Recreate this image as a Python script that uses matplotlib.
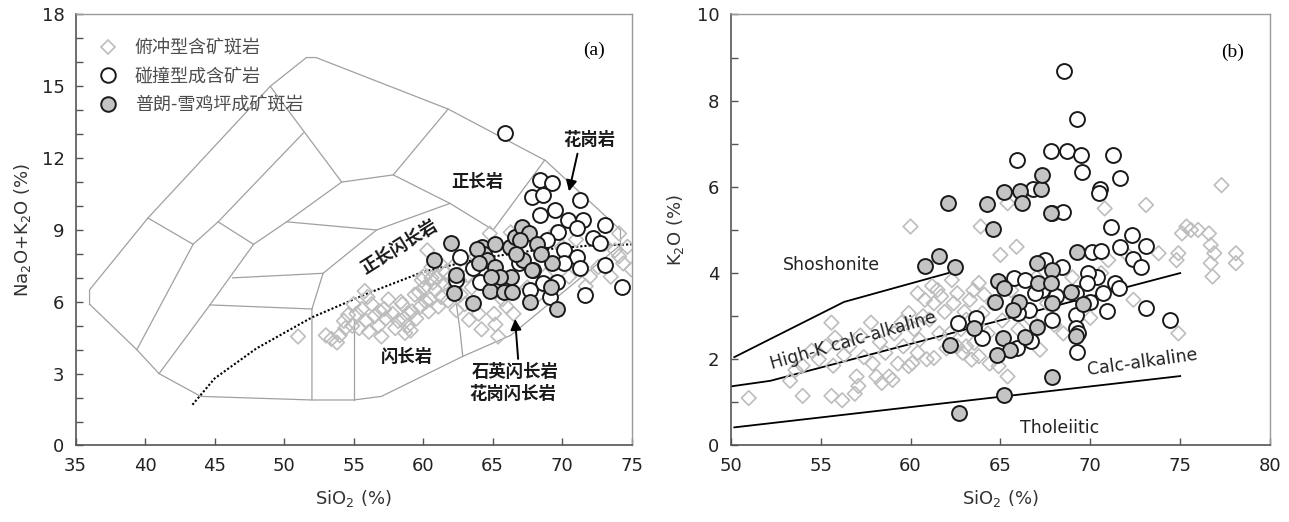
import matplotlib
matplotlib.use('Agg')
import matplotlib.pyplot as plt
from matplotlib.lines import Line2D

plt.rcParams['font.family'] = ['DejaVu Sans']
plt.rcParams['mathtext.default'] = 'regular'
CJK = ['Noto Sans CJK SC', 'DejaVu Sans']

# ---------------- panel (a): TAS data ----------------
tas_sub_x = [51.0, 53.0, 53.4, 53.8, 54.0, 54.3, 54.4, 54.6, 54.9, 55.0, 55.2, 55.4, 55.6, 55.8, 55.9,
             56.0, 56.1, 56.3, 56.5, 56.8, 56.9, 57.0, 57.2, 57.3, 57.5, 57.8, 58.0, 58.2, 58.4, 58.5,
             58.6, 58.7, 58.9, 59.0, 59.1, 59.2, 59.4, 59.5, 59.7, 59.8, 59.9, 60.0, 60.1, 60.2, 60.3,
             60.4, 60.5, 60.6, 60.6, 60.7, 60.9, 61.0, 61.1, 61.2, 61.3, 61.5, 61.6, 61.8, 61.9, 62.0,
             62.2, 62.4, 62.6, 62.7, 63.0, 63.2, 63.3, 63.5, 63.8, 64.0, 64.2, 64.2, 64.5, 64.8, 65.0,
             65.1, 65.2, 65.4, 65.7, 66.0, 66.3, 66.5, 67.0, 67.5, 68.3, 68.8, 69.5, 70.0, 70.5, 71.0,
             71.4, 71.7, 72.0, 72.6, 73.0, 73.5, 73.8, 74.1, 74.1, 74.4, 74.7, 75.0]
tas_sub_y = [4.55, 4.6, 4.45, 4.3, 4.6, 5.2, 4.9, 5.45, 5.0, 5.9, 5.5, 4.9, 5.7, 6.45, 5.2,
             6.2, 4.75, 5.9, 5.4, 5.0, 5.6, 4.55, 5.7, 5.3, 6.1, 5.5, 4.9, 5.2, 6.0, 5.9,
             5.3, 4.7, 5.0, 5.5, 4.8, 5.6, 6.3, 5.3, 6.4, 5.8, 6.9, 7.05, 6.6, 6.0, 8.15,
             5.6, 6.1, 7.45, 7.0, 6.8, 6.5, 7.0, 5.8, 7.6, 6.2, 6.75, 7.2, 6.05, 7.0, 6.6,
             7.5, 5.65, 6.9, 6.3, 5.9, 7.1, 5.25, 6.6, 7.9, 5.5, 4.85, 7.3, 6.9, 8.85, 6.5,
             5.5, 5.05, 4.55, 6.1, 5.8, 8.9, 5.5, 9.0, 6.6, 6.3, 7.1, 8.9, 8.3, 7.05, 8.6,
             7.45, 6.65, 7.05, 7.45, 8.4, 7.05, 8.15, 7.9, 8.85, 7.6, 8.3, 7.35]

tas_col_x = [65.9, 68.4, 69.25, 67.8, 68.65, 71.3, 68.4, 69.5, 70.45, 71.5, 73.1, 69.7, 71.05, 72.25,
             72.7, 70.1, 71.05, 73.1, 71.3, 70.1, 69.6, 71.65, 74.3, 62.65, 63.6, 64.1, 67.9, 68.65,
             62.4, 67.7, 69.1, 66.9, 68.9]
tas_col_y = [13.05, 11.09, 10.95, 10.39, 10.46, 10.25, 9.63, 9.83, 9.42, 9.42, 9.21, 8.93, 9.07, 8.65,
             8.44, 8.16, 7.89, 7.54, 7.4, 7.61, 6.84, 6.29, 6.63, 7.89, 7.4, 6.84, 7.33, 6.77,
             6.91, 6.5, 6.22, 7.6, 8.6]

tas_pl_x = [60.75, 62.0, 62.4, 62.2, 63.6, 64.2, 64.4, 65.15, 64.6, 65.2, 64.8, 66.25, 66.6, 67.1,
            67.6, 68.2, 67.0, 67.2, 67.8, 66.3, 65.5, 65.8, 66.4, 67.7, 69.2, 69.6, 69.3, 68.5,
            66.7, 64.9, 63.9, 64.0]
tas_pl_y = [7.75, 8.45, 7.1, 6.35, 5.94, 8.3, 8.0, 8.42, 7.75, 7.47, 6.45, 8.3, 8.72, 9.14,
            8.86, 8.4, 8.6, 7.75, 7.33, 7.05, 7.05, 6.4, 6.4, 6.0, 6.6, 5.7, 7.6, 8.0,
            8.0, 7.05, 8.2, 7.6]

# ---------------- panel (b): K2O data ----------------
k_sub_x = [51.0, 53.3, 53.6, 54.0, 54.0, 54.5, 54.9, 55.3, 55.6, 55.6, 55.7, 55.8, 56.2, 56.3, 56.6,
           56.9, 57.0, 57.1, 57.2, 57.4, 57.8, 57.9, 58.1, 58.3, 58.4, 58.6, 58.8, 59.0, 59.1, 59.3,
           59.5, 59.6, 59.9, 59.9, 60.0, 60.1, 60.2, 60.4, 60.4, 60.5, 60.7, 60.8, 60.9, 61.05, 61.2,
           61.3, 61.3, 61.5, 61.6, 61.7, 61.9, 62.0, 62.2, 62.3, 62.4, 62.6, 62.6, 62.8, 62.9, 63.0,
           63.1, 63.1, 63.3, 63.4, 63.5, 63.55, 63.7, 63.8, 63.8, 63.9, 64.0, 64.1, 64.3, 64.4, 64.6,
           64.9, 65.0, 65.1, 65.4, 65.4, 65.6, 65.9, 66.0, 66.3, 66.7, 67.0, 67.2, 67.6, 68.0, 68.5,
           69.0, 70.0, 70.6, 70.8, 71.0, 72.4, 72.0, 73.1, 73.8, 74.9, 74.8, 74.9, 75.1, 75.35, 75.6,
           76.0, 76.6, 76.7, 76.9, 76.7, 76.8, 78.1, 78.1, 77.3]
k_sub_y = [1.1, 1.5, 1.75, 1.15, 1.85, 2.2, 2.0, 2.3, 2.85, 1.15, 1.85, 2.5, 1.05, 2.1, 2.3,
           1.2, 1.6, 1.38, 2.55, 2.05, 2.85, 1.9, 1.6, 2.4, 1.45, 2.15, 1.6, 1.52, 2.6, 1.9,
           2.85, 2.3, 3.07, 1.84, 5.08, 1.91, 2.7, 3.53, 2.15, 2.45, 3.0, 3.38, 2.0, 2.92, 3.7,
           3.3, 2.03, 3.61, 2.6, 3.46, 3.1, 2.25, 2.6, 3.84, 3.3, 3.53, 2.3, 2.7, 2.15, 3.1,
           2.3, 2.92, 3.38, 1.99, 3.6, 2.38, 2.8, 3.77, 2.07, 5.08, 3.07, 3.5, 2.6, 1.9, 3.3,
           1.84, 4.42, 2.9, 1.6, 5.62, 3.6, 4.61, 2.7, 3.15, 2.92, 3.9, 2.22, 3.3, 2.8, 2.6,
           3.9, 2.96, 4.0, 5.5, 4.3, 3.38, 4.45, 5.58, 4.46, 4.46, 4.3, 2.6, 4.92, 5.08, 5.0,
           5.0, 4.92, 4.65, 4.46, 4.23, 3.92, 4.46, 4.23, 6.04]

k_col_x = [68.54, 69.26, 65.93, 67.8, 68.72, 69.5, 69.56, 71.26, 71.65, 70.53, 70.47, 66.84, 67.86,
           68.47, 71.15, 71.65, 72.3, 73.1, 72.35, 72.8, 70.08, 70.6, 67.5, 68.4, 65.75, 66.38,
           67.3, 70.35, 69.9, 69.8, 71.4, 71.6, 70.7, 70.0, 69.2, 70.95, 73.08, 74.44, 69.2, 69.2,
           69.33, 69.26, 66.7, 65.9, 62.64, 63.66, 64.0, 67.86, 68.1, 66.6, 66.0, 66.95]
k_col_y = [8.68, 7.58, 6.62, 6.83, 6.83, 6.74, 6.35, 6.74, 6.2, 5.96, 5.85, 5.96, 5.39,
           5.41, 5.08, 4.61, 4.88, 4.63, 4.32, 4.15, 4.5, 4.51, 4.3, 4.15, 3.88, 3.84,
           3.61, 3.92, 4.0, 3.77, 3.77, 3.65, 3.53, 3.34, 3.53, 3.11, 3.19, 2.92, 3.03, 2.72,
           2.6, 2.18, 2.42, 2.26, 2.84, 2.96, 2.49, 2.92, 3.46, 3.15, 3.07, 3.53]

k_pl_x = [62.07, 64.23, 64.57, 65.18, 66.09, 66.2, 67.25, 67.3, 67.8, 60.78, 61.57, 62.46, 64.86,
          65.2, 64.68, 66.04, 65.7, 67.06, 67.1, 67.86, 67.8, 67.86, 68.95, 69.26, 69.6, 67.06,
          66.38, 65.13, 65.54, 64.8, 63.55, 62.18, 69.22, 67.86, 65.2, 62.68]
k_pl_y = [5.63, 5.6, 5.02, 5.89, 5.91, 5.63, 5.96, 6.27, 5.39, 4.17, 4.4, 4.14, 3.82,
          3.65, 3.32, 3.34, 3.15, 4.23, 3.77, 4.07, 3.77, 3.3, 3.55, 4.5, 3.28, 2.76,
          2.51, 2.49, 2.22, 2.11, 2.72, 2.34, 2.55, 1.6, 1.18, 0.76]

# series boundaries
sho_x = [50.2, 56.3, 62.1]
sho_y = [2.05, 3.33, 4.0]
hk_x = [50.0, 52.2, 75.0]
hk_y = [1.37, 1.5, 4.0]
ca_x = [50.2, 75.0]
ca_y = [0.42, 1.61]

# TAS field boundaries (each a polyline)
tas_lines = [
    [(36.0, 5.9), (36.0, 6.5), (40.2, 9.5), (49.0, 15.0), (51.6, 16.2), (52.3, 16.2),
     (61.8, 14.05), (68.8, 11.9), (74.2, 9.0), (74.2, 8.37), (66.3, 4.6), (62.85, 3.72),
     (57.0, 2.05), (55.0, 1.9), (52.0, 1.9), (44.0, 2.05), (41.0, 3.0), (39.4, 4.0), (36.0, 5.9)],
    [(40.2, 9.5), (43.45, 8.4), (39.4, 4.0)],
    [(45.25, 9.34), (47.8, 8.4), (44.66, 5.87), (41.0, 3.0)],
    [(43.45, 8.4), (45.25, 9.34), (51.38, 13.05)],
    [(49.0, 15.0), (54.14, 11.0), (57.85, 11.3), (61.8, 14.05)],
    [(47.8, 8.4), (50.18, 9.34), (54.14, 11.0)],
    [(50.18, 9.34), (56.65, 9.0), (61.93, 10.11), (57.85, 11.3)],
    [(61.93, 10.11), (65.04, 9.0), (68.75, 11.92)],
    [(56.65, 9.0), (52.8, 7.19), (52.0, 5.7), (52.0, 1.9)],
    [(46.3, 7.0), (52.8, 7.19)],
    [(44.66, 5.87), (52.0, 5.7)],
    [(55.0, 1.9), (55.0, 5.3)],
    [(62.85, 3.72), (62.65, 4.82), (62.3, 6.3)],
]

# alkaline / subalkaline divide
div_x = [43.4, 45, 48, 52, 56, 60, 64, 68, 72, 75]
div_y = [1.7, 2.8, 4.05, 5.35, 6.35, 7.25, 7.8, 8.15, 8.35, 8.4]

fig = plt.figure(figsize=(12.89, 5.22), dpi=100)
ax1 = fig.add_axes([0.0587, 0.1466, 0.4313, 0.8257])
ax2 = fig.add_axes([0.5669, 0.1466, 0.4184, 0.8257])

dia_kw = dict(marker='D', s=55, facecolors='none', edgecolors='#bdbdbd', linewidths=1.2, zorder=3)
col_kw = dict(marker='o', s=115, facecolors='white', edgecolors='#1a1a1a', linewidths=1.4, zorder=4)
pl_kw = dict(marker='o', s=115, facecolors='#c4c4c4', edgecolors='#1a1a1a', linewidths=1.4, zorder=5)

# ---- (a) ----
for seg in tas_lines:
    ax1.plot([p[0] for p in seg], [p[1] for p in seg], color='#a0a0a0', lw=0.9, zorder=1)
ax1.plot(div_x, div_y, color='black', lw=1.5, ls=(0, (1, 1)), zorder=2)

ax1.scatter(tas_sub_x, tas_sub_y, **dia_kw)
ax1.scatter(tas_col_x, tas_col_y, **col_kw)
ax1.scatter(tas_pl_x, tas_pl_y, **pl_kw)

lab_kw = dict(family=CJK, fontsize=12.5, fontweight='bold', ha='center', va='center', color='#1a1a1a')
ax1.text(63.9, 11.0, '正长岩', **lab_kw)
ax1.text(72.0, 12.75, '花岗岩', **lab_kw)
ax1.text(58.3, 8.3, '正长闪长岩', rotation=32, **lab_kw)
ax1.text(58.8, 3.7, '闪长岩', **lab_kw)
ax1.text(66.6, 3.05, '石英闪长岩', **lab_kw)
ax1.text(66.45, 2.15, '花岗闪长岩', **lab_kw)
ax1.annotate('', xy=(70.45, 10.5), xytext=(71.15, 12.3),
             arrowprops=dict(arrowstyle='-|>', color='black', lw=1.4, mutation_scale=16))
ax1.annotate('', xy=(66.6, 5.4), xytext=(66.85, 3.5),
             arrowprops=dict(arrowstyle='-|>', color='black', lw=1.4, mutation_scale=16))
ax1.text(72.3, 16.5, '(a)', family='Liberation Serif', fontsize=14, ha='center', va='center')

handles = [
    Line2D([], [], ls='none', marker='D', ms=7.5, mfc='none', mec='#bdbdbd', mew=1.2),
    Line2D([], [], ls='none', marker='o', ms=10.5, mfc='white', mec='#1a1a1a', mew=1.4),
    Line2D([], [], ls='none', marker='o', ms=10.5, mfc='#c4c4c4', mec='#1a1a1a', mew=1.4),
]
labels = ['俯冲型含矿斑岩', '碰撞型成含矿岩', '普朗-雪鸡坪成矿斑岩']
leg = ax1.legend(handles, labels, loc='upper left', bbox_to_anchor=(0.025, 0.96), frameon=False,
                 prop={'family': CJK, 'size': 13}, handletextpad=0.9, labelspacing=0.6,
                 handlelength=1.2, borderaxespad=0)
for t in leg.get_texts():
    t.set_color('#4d4d4d')

ax1.set_xlim(35, 75)
ax1.set_ylim(0, 18)
ax1.set_xticks(range(35, 76, 5))
ax1.set_yticks(range(0, 19, 3))
ax1.set_yticks(range(0, 19, 1), minor=True)
ax1.set_xlabel('SiO$_2$ (%)', fontsize=13, color='#333333', labelpad=10)
ax1.set_ylabel('Na$_2$O+K$_2$O (%)', fontsize=13, color='#333333', labelpad=6)

# ---- (b) ----
ax2.plot(sho_x, sho_y, color='black', lw=1.3, zorder=2)
ax2.plot(hk_x, hk_y, color='black', lw=1.3, zorder=2)
ax2.plot(ca_x, ca_y, color='black', lw=1.3, zorder=2)

ax2.scatter(k_sub_x, k_sub_y, **dia_kw)
ax2.scatter(k_col_x, k_col_y, **col_kw)
ax2.scatter(k_pl_x, k_pl_y, **pl_kw)

ax2.text(55.6, 4.18, 'Shoshonite', fontsize=12.5, ha='center', va='center', color='#222222')
ax2.text(56.8, 2.44, 'High-K calc-alkaline', fontsize=12.5, ha='center', va='center', rotation=16, color='#222222')
ax2.text(72.9, 1.94, 'Calc-alkaline', fontsize=12.5, ha='center', va='center', rotation=8, color='#222222')
ax2.text(68.3, 0.40, 'Tholeiitic', fontsize=12.5, ha='center', va='center', color='#222222')
ax2.text(77.9, 9.12, '(b)', family='Liberation Serif', fontsize=14, ha='center', va='center')

ax2.set_xlim(50, 80)
ax2.set_ylim(0, 10)
ax2.set_xticks(range(50, 81, 5))
ax2.set_yticks(range(0, 11, 2))
ax2.set_yticks(range(0, 11, 1), minor=True)
ax2.set_xlabel('SiO$_2$ (%)', fontsize=13, color='#333333', labelpad=10)
ax2.set_ylabel('K$_2$O (%)', fontsize=13, color='#333333', labelpad=8)

for ax in (ax1, ax2):
    ax.tick_params(which='both', direction='in', labelsize=13, labelcolor='#222222', color='#555555', pad=8)
    ax.tick_params(which='major', length=5, width=1.0)
    ax.tick_params(which='minor', length=5, width=1.0)
    for side in ('left', 'bottom'):
        ax.spines[side].set_color('#555555')
        ax.spines[side].set_linewidth(1.2)
    for side in ('top', 'right'):
        ax.spines[side].set_color('#9a9a9a')
        ax.spines[side].set_linewidth(1.0)

fig.savefig('out.png', dpi=100)
